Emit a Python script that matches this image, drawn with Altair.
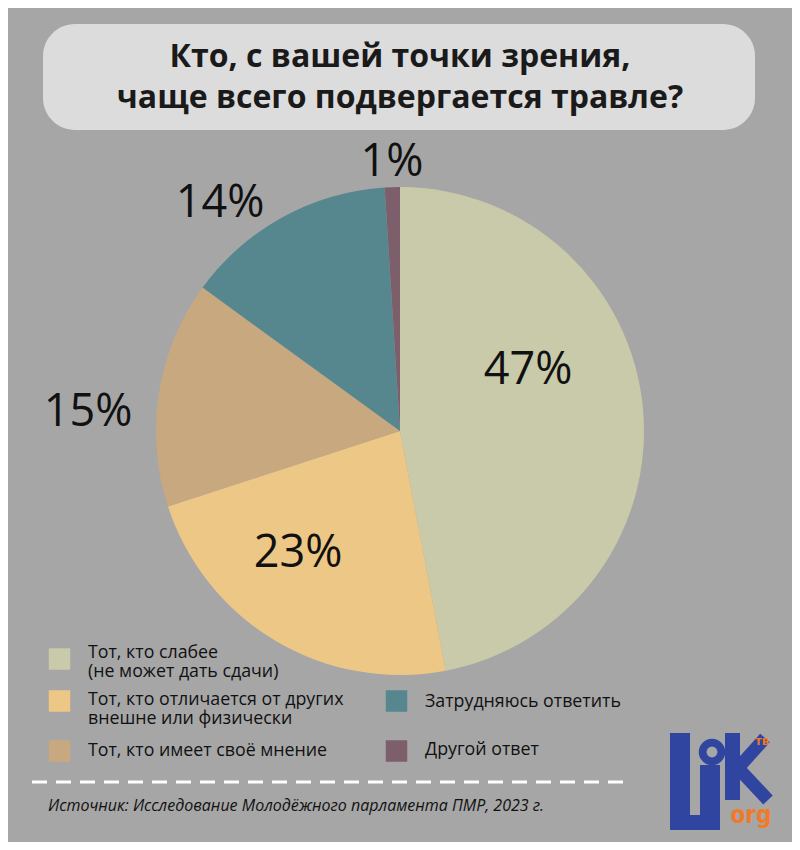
import altair as alt
import pandas as pd

# ---------------- data ----------------
categories = [
    "Тот, кто слабее\n(не может дать сдачи)",
    "Тот, кто отличается от других\nвнешне или физически",
    "Тот, кто имеет своё мнение",
    "Затрудняюсь ответить",
    "Другой ответ",
]
values = [47, 23, 15, 14, 1]
colors = ["#c9caa9", "#edc785", "#c8a97f", "#56878f", "#7d5f6c"]
title_lines = "Кто, с вашей точки зрения,\nчаще всего подвергается травле?"
source_text = "Источник: Исследование Молодёжного парламента ПМР, 2023 г."

# ---------------- layout (page pixel coordinates) ----------------
W, H = 784, 834
CX, CY, R = 400, 431, 244
label_pos = [(528, 370), (298, 553), (88, 412), (220, 203), (392, 162)]
legend_sq = [(59.5, 659), (59.5, 701), (59.5, 751), (396.5, 701), (396.5, 751)]
legend_txt = [(88, 653), (88, 700), (88, 751), (425, 702), (425, 750)]

xs = alt.Scale(domain=[8, 8 + W], nice=False, zero=False)
ys = alt.Scale(domain=[8 + H, 8], nice=False, zero=False)


def X(f):
    return alt.X(f, type="quantitative", scale=xs, axis=None)


def Y(f):
    return alt.Y(f, type="quantitative", scale=ys, axis=None)


pie_df = pd.DataFrame({"category": categories, "value": values, "idx": list(range(len(values)))})
color_scale = alt.Scale(domain=categories, range=colors)

# title box
box_df = pd.DataFrame({"x": [43], "x2": [755], "y": [24], "y2": [130],
                       "tx": [400], "ty": [57], "t": [title_lines]})
box = alt.Chart(box_df).mark_rect(color="#dcdcdc", cornerRadius=32).encode(
    x=X("x"), x2="x2", y=Y("y"), y2="y2")
title = alt.Chart(box_df).mark_text(
    font="Open Sans", fontWeight="bold", fontSize=32, lineBreak="\n", lineHeight=41,
    color="#1a1a1a", baseline="middle", align="center"
).encode(x=X("tx"), y=Y("ty"), text="t:N")

# pie
pie = alt.Chart(pie_df).mark_arc(outerRadius=R).encode(
    theta=alt.Theta("value:Q", stack=True),
    order=alt.Order("idx:Q"),
    color=alt.Color("category:N", scale=color_scale, legend=None),
    x=alt.value(CX - 8), y=alt.value(CY - 8),
)

lab_df = pd.DataFrame({
    "x": [p[0] for p in label_pos], "y": [p[1] for p in label_pos],
    "label": [f"{v}%" for v in values]})
labels = alt.Chart(lab_df).mark_text(
    font="Open Sans", fontSize=45, color="#111111", baseline="middle", align="center"
).encode(x=X("x"), y=Y("y"), text="label:N")

# legend
leg_df = pd.DataFrame({
    "category": categories,
    "sx": [p[0] for p in legend_sq], "sy": [p[1] for p in legend_sq],
    "tx": [p[0] for p in legend_txt], "ty": [p[1] for p in legend_txt]})
leg_sq = alt.Chart(leg_df).mark_square(size=462, opacity=1).encode(
    x=X("sx"), y=Y("sy"),
    color=alt.Color("category:N", scale=color_scale, legend=None))
leg_tx = alt.Chart(leg_df).mark_text(
    font="Open Sans", fontSize=17.8, color="#111111", align="left", baseline="middle",
    lineBreak="\n", lineHeight=19
).encode(x=X("tx"), y=Y("ty"), text="category:N")

# dashed separator
dash_df = pd.DataFrame({"x": [32], "x2": [632], "y": [782]})
dash = alt.Chart(dash_df).mark_rule(color="white", strokeWidth=3, strokeDash=[15, 9]).encode(
    x=X("x"), x2="x2", y=Y("y"))

src_df = pd.DataFrame({"x": [48], "y": [806], "t": [source_text]})
src = alt.Chart(src_df).mark_text(
    font="Open Sans", fontStyle="italic", fontSize=16, color="#111111",
    align="left", baseline="middle"
).encode(x=X("x"), y=Y("y"), text="t:N")

# logo (approximation)
blue, orange = "#2f45a0", "#f07a28"
logo_rects = pd.DataFrame({
    "x":  [670, 670, 700, 725],
    "x2": [690, 700, 720, 740],
    "y":  [733, 815, 765, 733],
    "y2": [830, 830, 830, 800],
})
logo_r = alt.Chart(logo_rects).mark_rect(color=blue).encode(
    x=X("x"), x2="x2", y=Y("y"), y2="y2")
logo_k = pd.DataFrame({"x": [738, 738], "y": [768, 768], "x2": [765, 768], "y2": [738, 800]})
logo_kr = alt.Chart(logo_k).mark_rule(color=blue, strokeWidth=13).encode(
    x=X("x"), x2="x2", y=Y("y"), y2="y2")
eye_df = pd.DataFrame({"x": [712], "y": [752]})
eye_o = alt.Chart(eye_df).mark_circle(size=700, opacity=1, color=blue).encode(x=X("x"), y=Y("y"))
eye_i = alt.Chart(eye_df).mark_circle(size=120, opacity=1, color="#a6a6a6").encode(x=X("x"), y=Y("y"))
logo_t1 = pd.DataFrame({"x": [751], "y": [816], "t": ["org"]})
logo_t2 = pd.DataFrame({"x": [762], "y": [741], "t": ["тв"]})
logo_txt1 = alt.Chart(logo_t1).mark_text(
    font="DejaVu Sans Condensed", fontWeight="bold", color=orange, fontSize=24,
    align="center", baseline="middle").encode(x=X("x"), y=Y("y"), text="t:N")
logo_txt2 = alt.Chart(logo_t2).mark_text(
    font="DejaVu Sans Condensed", fontWeight="bold", color=orange, fontSize=13,
    align="center", baseline="middle").encode(x=X("x"), y=Y("y"), text="t:N")

chart = alt.layer(
    box, title, pie, labels, leg_sq, leg_tx, dash, src,
    logo_r, logo_kr, eye_o, eye_i, logo_txt1, logo_txt2
).properties(
    width=W, height=H, background="#a6a6a6", padding=0,
    autosize=alt.AutoSizeParams(type="none"),
).configure_view(stroke=None)

chart.save("out.html", embed_options={"renderer": "svg", "actions": False})
